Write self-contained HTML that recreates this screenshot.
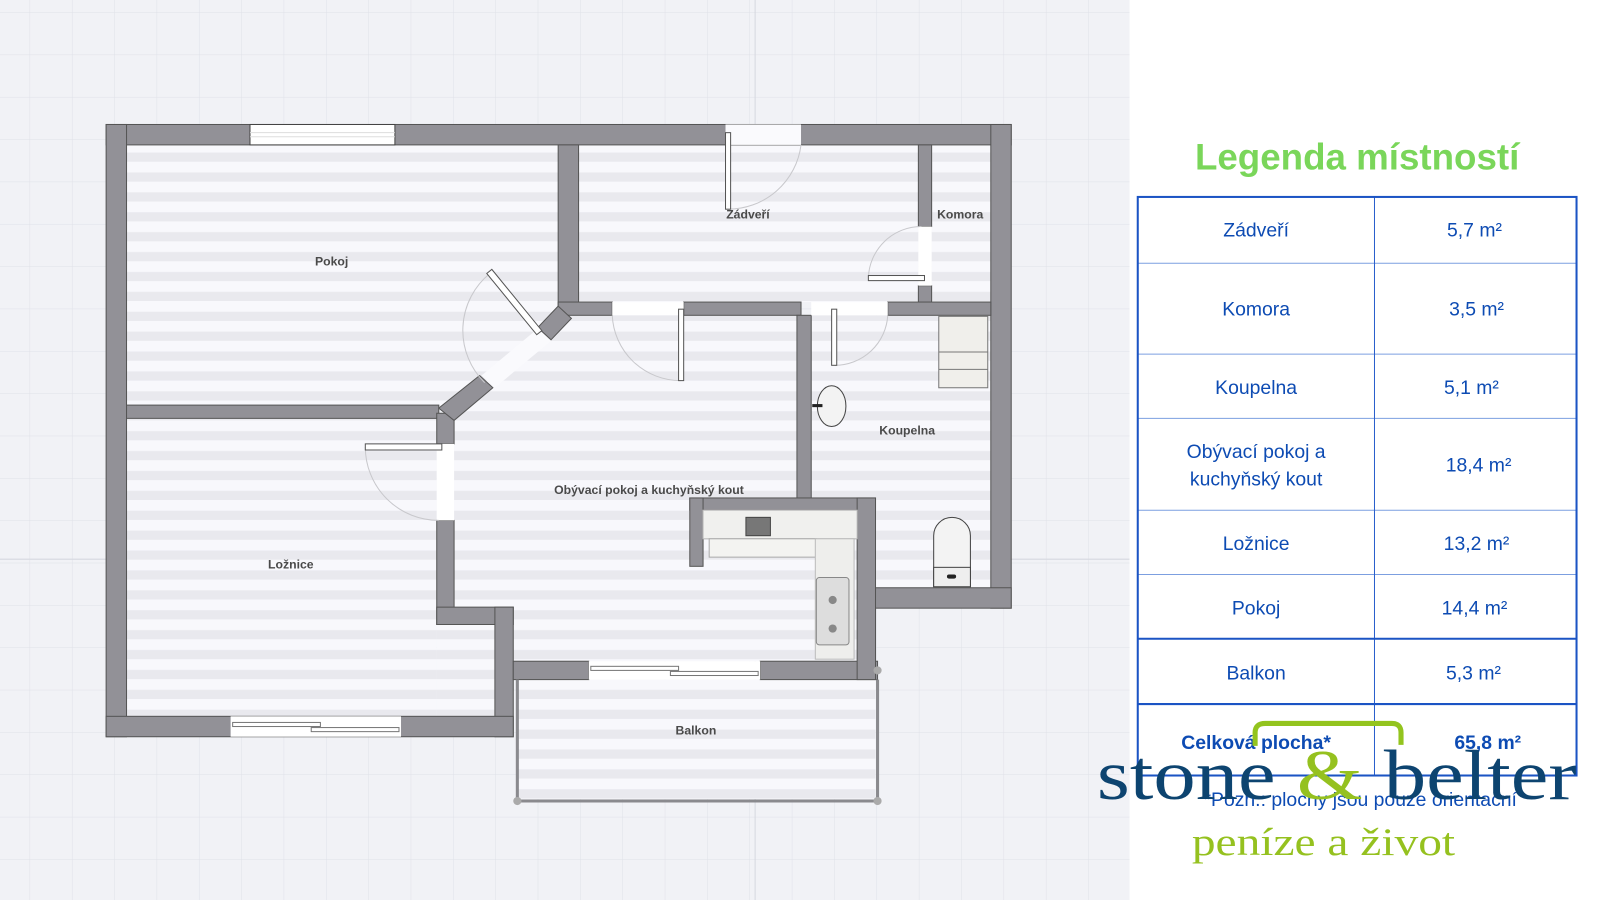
<!DOCTYPE html>
<html><head><meta charset="utf-8"><style>
html,body{margin:0;padding:0;width:1600px;height:900px;overflow:hidden;background:#f1f2f6}
svg{display:block}
.lbl{font-family:"Liberation Sans",sans-serif;font-size:12px;font-weight:bold;fill:#4a4a4a;text-anchor:middle}
.t{font-family:"Liberation Sans",sans-serif;font-size:19px;fill:#0d4bb3;text-anchor:middle}
</style></head><body>
<svg width="1600" height="900" viewBox="0 0 1568 882" xmlns="http://www.w3.org/2000/svg">
<defs>
<pattern id="grid" width="41.5" height="41.5" patternUnits="userSpaceOnUse" x="29" y="12">
<path d="M0 0H41.5M0 0V41.5" stroke="#dfe1e8" stroke-width="1" fill="none"/>
</pattern>
<pattern id="fl" width="20" height="19.5" patternUnits="userSpaceOnUse" y="3">
<rect width="20" height="19.5" fill="#f8f8fc"/><rect y="10" width="20" height="9" fill="#e9e9ee"/>
</pattern>
</defs>
<rect width="1107" height="882" fill="#f1f2f6"/>
<rect width="1107" height="882" fill="url(#grid)"/>
<line x1="740" y1="0" x2="740" y2="882" stroke="#d6d8df"/>
<line x1="0" y1="548" x2="1107" y2="548" stroke="#d6d8df"/>

<!-- floors -->
<g fill="url(#fl)">
<rect x="124" y="142" width="423" height="255"/>
<rect x="567" y="142" width="333" height="154"/>
<rect x="913" y="142" width="58" height="154"/>
<rect x="124" y="410" width="304" height="292"/>
<rect x="428" y="605" width="60" height="97"/>
<polygon points="445,410 530,330 547,309 781,309 781,500 840,500 840,648 503,648 503,612 445,612"/>
<rect x="795" y="309" width="176" height="267"/>
<rect x="508" y="666" width="350" height="117"/>
</g>

<!-- walls -->
<g fill="#929197" stroke="#555" stroke-width="1">
<rect x="104" y="122" width="887" height="20"/>
<rect x="104" y="122" width="20" height="600"/>
<rect x="971" y="122" width="20" height="474"/>
<rect x="547" y="142" width="20" height="160"/>
<rect x="124" y="397" width="306" height="13"/>
<rect x="900" y="142" width="13" height="80"/>
<rect x="900" y="280" width="13" height="20"/>
<rect x="547" y="296" width="53" height="13"/>
<rect x="670" y="296" width="115" height="13"/>
<rect x="870" y="296" width="101" height="13"/>
<rect x="781" y="309" width="14" height="181"/>
<rect x="428" y="405" width="17" height="30"/>
<rect x="428" y="510" width="17" height="102"/>
<rect x="428" y="595" width="75" height="17"/>
<rect x="485" y="595" width="18" height="127"/>
<rect x="104" y="702" width="399" height="20"/>
<rect x="503" y="648" width="74" height="18"/>
<rect x="745" y="648" width="115" height="18"/>
<rect x="676" y="488" width="182" height="12"/>
<rect x="676" y="488" width="13" height="67"/>
<rect x="840" y="488" width="18" height="178"/>
<rect x="858" y="576" width="133" height="20"/>
</g>
<polygon points="527,322 540,334 485,380 472,368" fill="#fafafd"/>
<polygon points="547,300 560,312 540,333 527,321" fill="#929197" stroke="#555"/>
<polygon points="470,368 483,380 445,412 430,400" fill="#929197" stroke="#555"/>
<!-- openings / windows -->
<rect x="245" y="122" width="142" height="20" fill="#fff" stroke="#444"/>
<line x1="245" y1="130" x2="387" y2="130" stroke="#ddd"/><line x1="245" y1="134" x2="387" y2="134" stroke="#ddd"/>
<rect x="711" y="122" width="74" height="20" fill="#fafafd"/>
<rect x="226" y="702" width="167" height="20" fill="#fff"/>
<rect x="228" y="708" width="86" height="4" fill="#fff" stroke="#777"/>
<rect x="305" y="713" width="86" height="4" fill="#fff" stroke="#777"/>
<rect x="577" y="648" width="168" height="18" fill="#fff"/>
<rect x="579" y="653" width="86" height="4" fill="#fff" stroke="#777"/>
<rect x="657" y="658" width="86" height="4" fill="#fff" stroke="#777"/>
<rect x="428" y="435" width="17" height="75" fill="#fff"/>
<rect x="900" y="222" width="13" height="58" fill="#fff"/>
<rect x="600" y="296" width="70" height="13" fill="#fff"/>
<rect x="795" y="296" width="75" height="13" fill="#fff"/>
<!-- doors -->
<g fill="none" stroke="#c8c8cc" stroke-width="1">
<path d="M785 142 A72 72 0 0 1 713 205"/>
<path d="M851 272 A52 52 0 0 1 903 222"/>
<path d="M600 309 A67 67 0 0 0 667 373"/>
<path d="M870 309 A52 52 0 0 1 818 358"/>
<path d="M358 438 A72 72 0 0 0 430 510"/>
<path d="M480 268 A72 72 0 0 0 475 375"/>
</g>
<g fill="#fff" stroke="#555" stroke-width="1">
<rect x="711" y="130" width="5" height="75"/>
<rect x="851" y="270" width="55" height="5"/>
<rect x="665" y="303" width="5" height="70"/>
<rect x="815" y="303" width="5" height="55"/>
<rect x="358" y="435" width="75" height="6"/>
<polygon points="477,268 482,264 531,324 526,328"/>
</g>
<!-- kitchen -->
<rect x="689" y="500" width="151" height="28" fill="#f0f0ee" stroke="#bbb"/>
<rect x="695" y="528" width="105" height="18" fill="#f3f3f1" stroke="#aaa"/>
<rect x="799" y="528" width="38" height="118" fill="#eeeeec" stroke="#bbb"/>
<rect x="731" y="507" width="24" height="18" fill="#777" stroke="#444"/>
<rect x="800" y="566" width="32" height="66" fill="#ddd" stroke="#888" rx="3"/>
<circle cx="816" cy="588" r="4" fill="#888"/><circle cx="816" cy="616" r="4" fill="#888"/>
<!-- bathroom -->
<rect x="920" y="310" width="48" height="70" fill="#f0efeb" stroke="#777"/>
<line x1="920" y1="345" x2="968" y2="345" stroke="#777"/><line x1="920" y1="362" x2="968" y2="362" stroke="#777"/>
<ellipse cx="815" cy="398" rx="14" ry="20" fill="#f3f3f3" stroke="#444"/>
<rect x="796" y="396" width="10" height="3" fill="#222"/>
<path d="M915 575 V525 A18 18 0 0 1 951 525 V575 Z" fill="#f3f3f3" stroke="#444"/>
<rect x="915" y="556" width="36" height="19" fill="#eee" stroke="#444"/>
<rect x="928" y="563" width="9" height="4" rx="2" fill="#222"/>
<!-- balcony border -->
<path d="M507 666 V785 H860 V666" fill="none" stroke="#8a8a8e" stroke-width="3"/>
<circle cx="507" cy="785" r="4" fill="#aaa"/><circle cx="860" cy="785" r="4" fill="#aaa"/><circle cx="860" cy="657" r="4" fill="#aaa"/>

<text class="lbl" x="325" y="260">Pokoj</text>
<text class="lbl" x="733" y="214">Zádveří</text>
<text class="lbl" x="941" y="214">Komora</text>
<text class="lbl" x="889" y="426">Koupelna</text>
<text class="lbl" x="636" y="484">Obývací pokoj a kuchyňský kout</text>
<text class="lbl" x="285" y="557">Ložnice</text>
<text class="lbl" x="682" y="720">Balkon</text>

<!-- right panel -->
<rect x="1107" y="0" width="461" height="882" fill="#fff"/>
<text x="1330" y="166" font-family="Liberation Sans,sans-serif" font-weight="bold" font-size="36" fill="#7ad65a" text-anchor="middle">Legenda místností</text>
<g stroke="#7c9fe0" stroke-width="1">
<line x1="1115" y1="258" x2="1545" y2="258"/><line x1="1115" y1="347" x2="1545" y2="347"/>
<line x1="1115" y1="410" x2="1545" y2="410"/><line x1="1115" y1="500" x2="1545" y2="500"/>
<line x1="1115" y1="563" x2="1545" y2="563"/>
<line x1="1347" y1="193" x2="1347" y2="760" stroke="#2a5fcc"/>
</g>
<g stroke="#1b54c4" stroke-width="2" fill="none">
<rect x="1115" y="193" width="430" height="567"/>
<line x1="1115" y1="626" x2="1545" y2="626"/><line x1="1115" y1="690" x2="1545" y2="690"/>
</g>
<text class="t" x="1231" y="232">Zádveří</text><text class="t" x="1445" y="232">5,7 m²</text>
<text class="t" x="1231" y="309">Komora</text><text class="t" x="1447" y="309">3,5 m²</text>
<text class="t" x="1231" y="386">Koupelna</text><text class="t" x="1442" y="386">5,1 m²</text>
<text class="t" x="1231" y="449">Obývací pokoj a</text><text class="t" x="1231" y="476">kuchyňský kout</text><text class="t" x="1449" y="462">18,4 m²</text>
<text class="t" x="1231" y="539">Ložnice</text><text class="t" x="1447" y="539">13,2 m²</text>
<text class="t" x="1231" y="602">Pokoj</text><text class="t" x="1445" y="602">14,4 m²</text>
<text class="t" x="1231" y="666">Balkon</text><text class="t" x="1444" y="666">5,3 m²</text>
<text class="t" x="1231" y="734" font-weight="bold" font-size="20">Celková plocha*</text>
<text class="t" x="1458" y="734" font-weight="bold" font-size="22">65,8 m²</text>
<path d="M1230 731 V718 Q1230 709 1240 709 H1364 Q1373 709 1373 718 V730" fill="none" stroke="#93c41e" stroke-width="5"/>
<text class="t" x="1333" y="790" font-size="16">*Pozn.: plochy jsou pouze orientační</text>
<text x="1075" y="783" font-family="Liberation Serif,serif" font-size="70" fill="#0d4470" textLength="470" lengthAdjust="spacingAndGlyphs">stone <tspan fill="#95c11f">&amp;</tspan> belter</text>
<text x="1168" y="838" font-family="Liberation Serif,serif" font-size="38" fill="#95c11f" textLength="258" lengthAdjust="spacingAndGlyphs">peníze a život</text>
</svg>
</body></html>
